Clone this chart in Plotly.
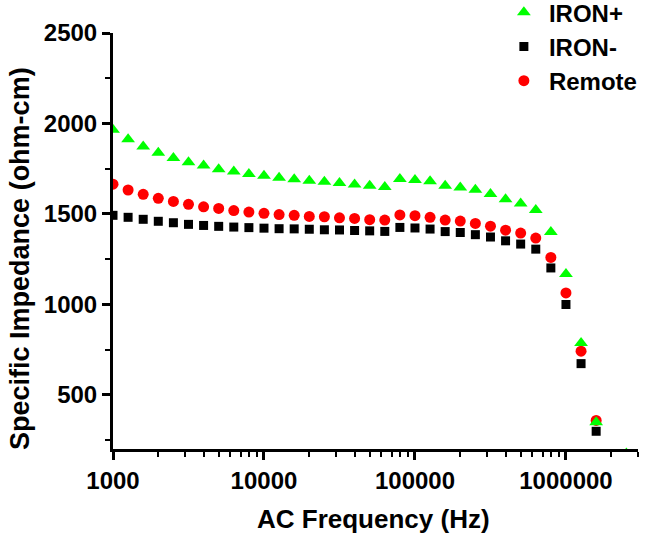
import plotly.graph_objects as go

# AC frequency (Hz), ~10 points per decade
freq = [1000, 1259, 1585, 1995, 2512, 3162, 3981, 5012, 6310, 7943,
        10000, 12589, 15849, 19953, 25119, 31623, 39811, 50119, 63096, 79433,
        100000, 125893, 158489, 199526, 251189, 316228, 398107, 501187, 630957, 794328,
        1000000, 1258925, 1584893]

iron_plus = [1965, 1912, 1873, 1838, 1809, 1786, 1768, 1747, 1734, 1721,
             1711, 1700, 1691, 1683, 1678, 1671, 1663, 1655, 1648, 1693,
             1687, 1680, 1655, 1646, 1633, 1610, 1581, 1558, 1521, 1400,
             1167, 786, 348]
iron_plus_extra_freq = [2511886]
iron_plus_extra_val = [175]

iron_minus = [1492, 1481, 1470, 1459, 1451, 1442, 1436, 1431, 1427, 1424,
              1421, 1418, 1417, 1415, 1412, 1411, 1408, 1406, 1403, 1425,
              1422, 1416, 1402, 1397, 1385, 1372, 1351, 1333, 1305, 1201,
              999, 672, 298]

remote = [1664, 1632, 1608, 1586, 1569, 1553, 1539, 1530, 1518, 1510,
          1503, 1496, 1492, 1486, 1484, 1478, 1475, 1468, 1466, 1494,
          1490, 1481, 1466, 1460, 1447, 1432, 1410, 1394, 1366, 1259,
          1063, 741, 358]

x_major = [1000, 10000, 100000, 1000000]
x_major_text = ["1000", "10000", "100000", "1000000"]
x_minor = [k * 10 ** n for n in range(3, 7) for k in range(2, 10) if k * 10 ** n <= 3000000]

FONT = "Arial, Liberation Sans, Helvetica, sans-serif"

fig = go.Figure()
fig.add_trace(go.Scatter(x=freq, y=remote, mode="markers", name="Remote", legendrank=3,
                         marker=dict(symbol="circle", size=11, color="#ff0000")))
fig.add_trace(go.Scatter(x=freq, y=iron_minus, mode="markers", name="IRON-", legendrank=2,
                         marker=dict(symbol="square", size=9, color="#000000")))
fig.add_trace(go.Scatter(x=freq + iron_plus_extra_freq, y=iron_plus + iron_plus_extra_val,
                         mode="markers", name="IRON+", legendrank=1,
                         marker=dict(symbol="triangle-up", size=12, color="#00ff00")))

fig.update_layout(
    width=645, height=539,
    margin=dict(l=113, r=7, t=33, b=90, autoexpand=False),
    paper_bgcolor="white", plot_bgcolor="white",
    font=dict(family=FONT, size=24, color="black", weight="bold"),
    showlegend=True,
    legend=dict(x=0.735, y=1.103, xanchor="left", yanchor="top",
                bgcolor="rgba(0,0,0,0)", font=dict(size=24, weight="bold"),
                itemsizing="trace", itemwidth=40, tracegroupgap=0),
    xaxis=dict(type="log", range=[3, 6.4771], showgrid=False, zeroline=False, automargin=False,
               showline=True, linecolor="black", linewidth=3, mirror=False,
               ticks="outside", ticklen=8, tickwidth=2.5, tickcolor="black",
               tickvals=x_major, ticktext=x_major_text,
               tickfont=dict(size=24, weight="bold"),
               minor=dict(tickvals=x_minor, ticks="outside", ticklen=5, tickwidth=2, tickcolor="black")),
    yaxis=dict(range=[200, 2500], showgrid=False, zeroline=False, automargin=False,
               showline=True, linecolor="black", linewidth=3, mirror=False,
               ticks="outside", ticklen=8, tickwidth=2.5, tickcolor="black",
               tick0=0, dtick=500, tickfont=dict(size=24, weight="bold"),
               minor=dict(tick0=0, dtick=250, ticks="outside", ticklen=5, tickwidth=2, tickcolor="black")),
    annotations=[
        dict(text="Specific Impedance (ohm-cm)", textangle=-90, xref="paper", yref="paper",
             x=-0.177, y=0.457, xanchor="center", yanchor="middle", showarrow=False,
             font=dict(size=27, weight="bold")),
        dict(text="AC Frequency (Hz)", xref="paper", yref="paper",
             x=0.496, y=-0.168, xanchor="center", yanchor="middle", showarrow=False,
             font=dict(size=26, weight="bold")),
    ],
)

fig.write_html("out.html", config={"displayModeBar": False},
               post_script="document.body.style.margin='0px';document.body.style.overflow='hidden';")
